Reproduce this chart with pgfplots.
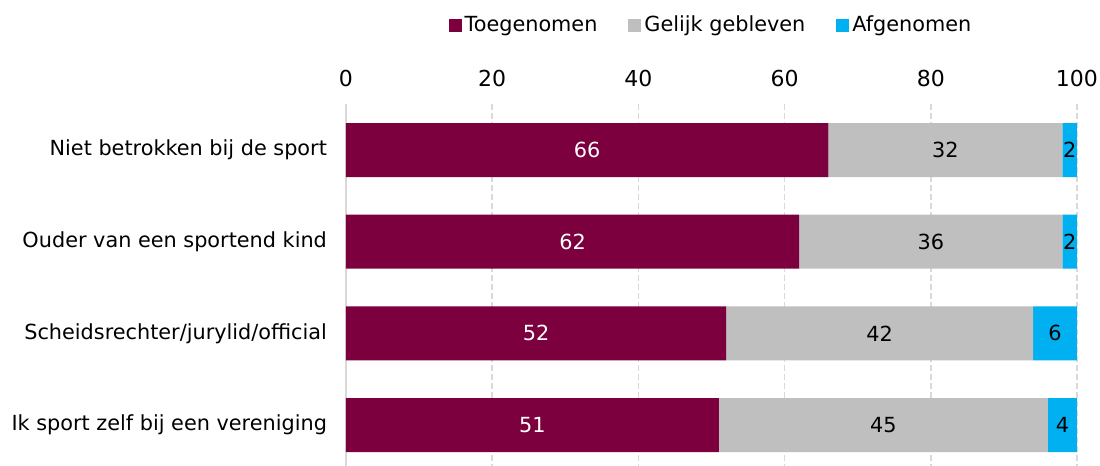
\documentclass[border=0pt]{standalone}
\usepackage{fontspec}
\setmainfont{DejaVu Sans}
\usepackage{pgfplots}
\pgfplotsset{compat=1.18}
\definecolor{toe}{RGB}{123,0,61}
\definecolor{gel}{RGB}{191,191,191}
\definecolor{afg}{RGB}{0,176,240}
\definecolor{gridgray}{RGB}{217,217,217}

\begin{document}
\begin{tikzpicture}
\begin{axis}[
  scale only axis,
  width=365.5pt, height=180.9pt,
  xbar stacked,
  bar width=27pt,
  xmin=0, xmax=100,
  ymin=-0.5, ymax=3.446,
  y dir=reverse,
  /pgf/number format/assume math mode=true,
  xtick={0,20,...,100},
  ytick={0,1,2,3},
  yticklabels={Niet betrokken bij de sport, Ouder van een sportend kind, Scheidsrechter/jurylid/official, Ik sport zelf bij een vereniging},
  axis x line*=top,
  axis y line*=left,
  x axis line style={draw=none},
  y axis line style={draw=gridgray, line width=0.8pt, -},
  major tick style={draw=none},
  xmajorgrids,
  grid style={gridgray, line width=0.8pt, dash pattern=on 3pt off 1.5pt},
  xticklabel style={font=\fontsize{11}{13}\selectfont, anchor=base, yshift=9pt},
  yticklabel style={font=\fontsize{10.4}{12}\selectfont, xshift=-6pt},
  visualization depends on=rawx \as \rawx,
  nodes near coords={\pgfmathprintnumber{\rawx}},
  every node near coord/.append style={anchor=center, font=\fontsize{10.4}{12}\selectfont},
  legend columns=3,
  legend style={at={(0.5,1)}, anchor=center, yshift=39.5pt, draw=none, fill=none,
    font=\fontsize{10.4}{12}\selectfont,
    /tikz/every even column/.append style={column sep=14pt},
    nodes={inner xsep=1.5pt}},
  legend image code/.code={\fill[#1] (0pt,-3.25pt) rectangle (6.5pt,3.25pt);},
]
\addplot[fill=toe, draw=none, every node near coord/.append style={text=white}]
  coordinates {(66,0) (62,1) (52,2) (51,3)};
\addplot[fill=gel, draw=none, every node near coord/.append style={text=black}]
  coordinates {(32,0) (36,1) (42,2) (45,3)};
\addplot[fill=afg, draw=none, every node near coord/.append style={text=black}]
  coordinates {(2,0) (2,1) (6,2) (4,3)};
\legend{Toegenomen, Gelijk gebleven, Afgenomen}
\coordinate (bl) at (axis cs:0,3.446);
\end{axis}
\pgfresetboundingbox
\path[use as bounding box] (bl) ++(-173pt,0pt) rectangle ++(550pt,233pt);
\end{tikzpicture}
\end{document}
